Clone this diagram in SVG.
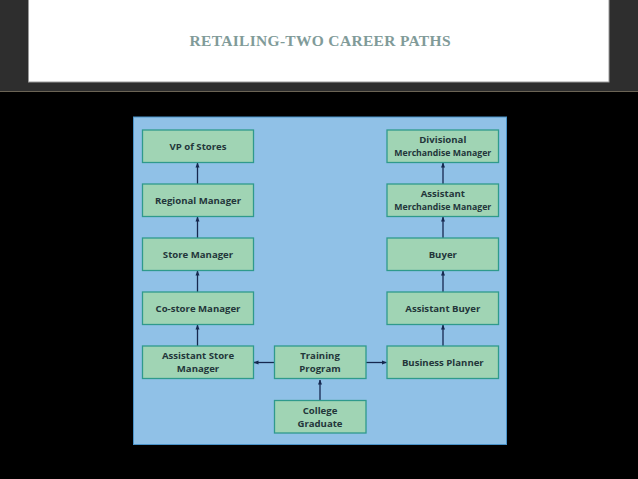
<svg xmlns="http://www.w3.org/2000/svg" width="638" height="479" viewBox="0 0 638 479">
<defs>
<style>
.box{fill:#a0d4b4;stroke:#2f9a8c;stroke-width:1.3}
.lbl{font-family:"Open Sans","Liberation Sans",sans-serif;font-weight:700;font-size:9.6px;fill:#23363a;text-anchor:middle}
.con{stroke:#16284f;stroke-width:1.3;fill:none}
</style>
<marker id="ah" viewBox="0 0 10 10" refX="9" refY="5" markerWidth="5" markerHeight="5" orient="auto" markerUnits="userSpaceOnUse">
<path d="M0,1 L10,5 L0,9 Z" fill="#16284f"/>
</marker>
</defs>
<rect x="0" y="0" width="638" height="479" fill="#000"/>
<rect x="0" y="0" width="638" height="91" fill="#2e2e2e"/>
<line x1="0" y1="91.5" x2="638" y2="91.5" stroke="#6b6455" stroke-width="1"/>
<rect x="28.5" y="-2" width="580.5" height="84" fill="#fff" stroke="#9a9a9a" stroke-width="1"/>
<text x="189.5" y="45.7" font-family="Liberation Serif,serif" font-size="15.5" font-weight="bold" fill="#819b99" textLength="261" lengthAdjust="spacing">RETAILING-TWO CAREER PATHS</text>
<rect x="133.5" y="117" width="373" height="327.5" fill="#90c1e7" stroke="#4a93c9" stroke-width="1"/>
<g id="connectors">
<line class="con" x1="197.5" y1="184" x2="197.5" y2="163" marker-end="url(#ah)"/>
<line class="con" x1="197.5" y1="238" x2="197.5" y2="217" marker-end="url(#ah)"/>
<line class="con" x1="197.5" y1="292" x2="197.5" y2="271" marker-end="url(#ah)"/>
<line class="con" x1="197.5" y1="346" x2="197.5" y2="325" marker-end="url(#ah)"/>
<line class="con" x1="443" y1="184" x2="443" y2="163" marker-end="url(#ah)"/>
<line class="con" x1="443" y1="238" x2="443" y2="217" marker-end="url(#ah)"/>
<line class="con" x1="443" y1="292" x2="443" y2="271" marker-end="url(#ah)"/>
<line class="con" x1="443" y1="346" x2="443" y2="325" marker-end="url(#ah)"/>
<line class="con" x1="274" y1="362.5" x2="254" y2="362.5" marker-end="url(#ah)"/>
<line class="con" x1="366" y1="362.5" x2="386.5" y2="362.5" marker-end="url(#ah)"/>
<line class="con" x1="320" y1="400" x2="320" y2="380" marker-end="url(#ah)"/>
</g>
<g id="vp"><rect class="box" x="142.5" y="130" width="111" height="32.5"/><text class="lbl" x="198" y="149.8">VP of Stores</text></g>
<g id="regional"><rect class="box" x="142.5" y="184" width="111" height="32.5"/><text class="lbl" x="198" y="203.8">Regional Manager</text></g>
<g id="store"><rect class="box" x="142.5" y="238" width="111" height="32.5"/><text class="lbl" x="198" y="257.8">Store Manager</text></g>
<g id="costore"><rect class="box" x="142.5" y="292" width="111" height="32.5"/><text class="lbl" x="198" y="311.8">Co-store Manager</text></g>
<g id="asststore"><rect class="box" x="142.5" y="346" width="111" height="32.5"/><text class="lbl" x="198" y="359.3">Assistant Store</text><text class="lbl" x="198" y="372">Manager</text></g>
<g id="training"><rect class="box" x="274.5" y="346" width="91.5" height="32.5"/><text class="lbl" x="320" y="359.3">Training</text><text class="lbl" x="320" y="372">Program</text></g>
<g id="college"><rect class="box" x="274.5" y="400.5" width="91.5" height="32.5"/><text class="lbl" x="320" y="413.8">College</text><text class="lbl" x="320" y="426.5">Graduate</text></g>
<g id="divisional"><rect class="box" x="387" y="130" width="111.5" height="32.5"/><text class="lbl" x="442.8" y="143.3">Divisional</text><text class="lbl" x="442.8" y="156" textLength="97" lengthAdjust="spacingAndGlyphs">Merchandise Manager</text></g>
<g id="asstmerch"><rect class="box" x="387" y="184" width="111.5" height="32.5"/><text class="lbl" x="442.8" y="197.3">Assistant</text><text class="lbl" x="442.8" y="210" textLength="97" lengthAdjust="spacingAndGlyphs">Merchandise Manager</text></g>
<g id="buyer"><rect class="box" x="387" y="238" width="111.5" height="32.5"/><text class="lbl" x="442.8" y="257.8">Buyer</text></g>
<g id="asstbuyer"><rect class="box" x="387" y="292" width="111.5" height="32.5"/><text class="lbl" x="442.8" y="311.8">Assistant Buyer</text></g>
<g id="planner"><rect class="box" x="387" y="346" width="111.5" height="32.5"/><text class="lbl" x="442.8" y="365.8">Business Planner</text></g>
</svg>
